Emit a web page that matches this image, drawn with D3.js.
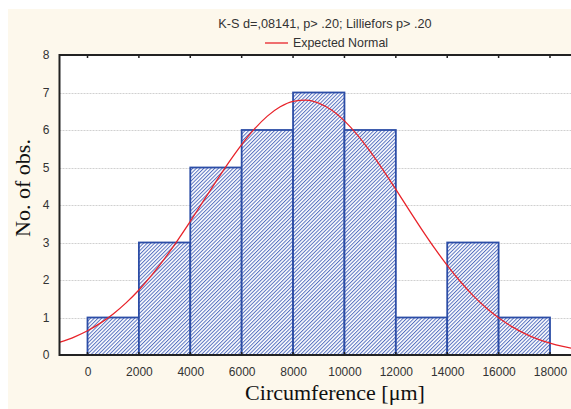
<!DOCTYPE html>
<html><head><meta charset="utf-8">
<script src="https://cdn.jsdelivr.net/npm/d3@7"></script>
<style>body{margin:0;background:#fff}svg{display:block}</style>
</head><body>
<svg id="c" width="571" height="409"></svg>
<script>
const binStarts = [0, 2000, 4000, 6000, 8000, 10000, 12000, 14000, 16000];
const binWidth = 2000;
const counts = [1, 3, 5, 6, 7, 6, 1, 3, 1];
const xTicks = [0, 2000, 4000, 6000, 8000, 10000, 12000, 14000, 16000, 18000];
const yTicks = [0, 1, 2, 3, 4, 5, 6, 7, 8];
const curveX = [-1100,-500,0,500,1000,1500,2000,2500,3000,3500,4000,4500,5000,5500,6000,6500,7000,7500,8000,8500,9000,9500,10000,10500,11000,11500,12000,12500,13000,13500,14000,14500,15000,15500,16000,16500,17000,17500,18000,18500,19000];
const curveY = [0.335,0.484,0.647,0.849,1.095,1.390,1.735,2.130,2.571,3.053,3.565,4.094,4.625,5.137,5.611,6.029,6.370,6.619,6.764,6.798,6.719,6.531,6.243,5.870,5.428,4.935,4.414,3.882,3.358,2.856,2.390,1.966,1.591,1.266,0.991,0.762,0.577,0.430,0.315,0.227,0.160];
const title = "K-S d=,08141, p> .20; Lilliefors p> .20";
const legendLabel = "Expected Normal";
const xLabel = "Circumference [\u03bcm]";
const yLabel = "No. of obs.";

const svg = d3.select("#c");
svg.append("rect").attr("x",8).attr("y",9).attr("width",563).attr("height",400).attr("fill","#fdf8ec");

const L = 59.5, T = 55, B = 355, R = 580;
const x = d3.scaleLinear().domain([-1090, 19000]).range([L, L + 20090*0.025694]);
const y = d3.scaleLinear().domain([0, 8]).range([B, T]);

const defs = svg.append("defs");
const pat = defs.append("pattern").attr("id","hatch").attr("patternUnits","userSpaceOnUse").attr("width",2.6).attr("height",2.6).attr("patternTransform","rotate(45)");
pat.append("rect").attr("width",2.6).attr("height",2.6).attr("fill","#ffffff");
pat.append("rect").attr("width",1).attr("height",2.6).attr("fill","#5570c0");
defs.append("clipPath").attr("id","clip").append("rect").attr("x",L).attr("y",T).attr("width",R-L).attr("height",B-T);

svg.append("rect").attr("x",L).attr("y",T).attr("width",R-L).attr("height",B-T).attr("fill","#fff");

// gridlines
svg.append("g").selectAll("line").data(yTicks.filter(d=>d>0 && d<8)).join("line")
  .attr("x1",L).attr("x2",R).attr("y1",d=>Math.round(y(d))+0.5).attr("y2",d=>Math.round(y(d))+0.5)
  .attr("stroke","#d0d0d0").attr("stroke-width",1).attr("stroke-dasharray","2,1");

// bars
svg.append("g").selectAll("rect").data(binStarts).join("rect")
  .attr("x",(d)=>x(d)).attr("y",(d,i)=>y(counts[i]))
  .attr("width",d=>x(d+binWidth)-x(d)).attr("height",(d,i)=>y(0)-y(counts[i]))
  .attr("fill","url(#hatch)").attr("stroke","#2c4da6").attr("stroke-width",1.8);

// curve
const line = d3.line().x(d=>x(d[0])).y(d=>y(d[1])).curve(d3.curveMonotoneX);
svg.append("path").datum(curveX.map((v,i)=>[v,curveY[i]])).attr("d",line)
  .attr("clip-path","url(#clip)").attr("fill","none").attr("stroke","#e8232a").attr("stroke-width",1.3);

// frame
svg.append("path").attr("d",`M${R},${T}H${L}V${B}H${R}`).attr("fill","none").attr("stroke","#222").attr("stroke-width",2);

// axes
const xb = svg.append("g").attr("transform",`translate(0,${B})`)
  .call(d3.axisBottom(x).tickValues(xTicks).tickSize(0).tickPadding(12).tickFormat(d3.format("d")));
xb.select(".domain").remove();
xb.selectAll("text").attr("font-family","Liberation Sans, Arial, sans-serif").attr("font-size",12).attr("fill","#333");
svg.append("g").selectAll("line").data(xTicks).join("line")
  .attr("x1",d=>x(d)).attr("x2",d=>x(d)).attr("y1",T).attr("y2",T+3).attr("stroke","#222").attr("stroke-width",1.5);
svg.append("g").selectAll("line").data(xTicks).join("line")
  .attr("x1",d=>x(d)).attr("x2",d=>x(d)).attr("y1",B).attr("y2",B-3).attr("stroke","#222").attr("stroke-width",1.5);

const yl = svg.append("g").attr("transform",`translate(${L},0)`)
  .call(d3.axisLeft(y).tickValues(yTicks).tickSize(0).tickPadding(10));
yl.select(".domain").remove();
yl.selectAll("text").attr("font-family","Liberation Sans, Arial, sans-serif").attr("font-size",12).attr("fill","#333");

// labels
svg.append("text").attr("x",335).attr("y",400).attr("text-anchor","middle")
  .attr("font-family","Liberation Serif, Times New Roman, serif").attr("font-size",22).attr("fill","#111").text(xLabel);
svg.append("text").attr("transform","translate(30,188) rotate(-90)").attr("text-anchor","middle")
  .attr("font-family","Liberation Serif, Times New Roman, serif").attr("font-size",22).attr("fill","#111").text(yLabel);

svg.append("text").attr("x",325).attr("y",28).attr("text-anchor","middle")
  .attr("font-family","Liberation Sans, Arial, sans-serif").attr("font-size",12.7).attr("fill","#333").text(title);
svg.append("line").attr("x1",265).attr("x2",288).attr("y1",43).attr("y2",43).attr("stroke","#e8232a").attr("stroke-width",1.3);
svg.append("text").attr("x",293).attr("y",47).attr("font-family","Liberation Sans, Arial, sans-serif")
  .attr("font-size",12.4).attr("fill","#333").text(legendLabel);
</script>
</body></html>
